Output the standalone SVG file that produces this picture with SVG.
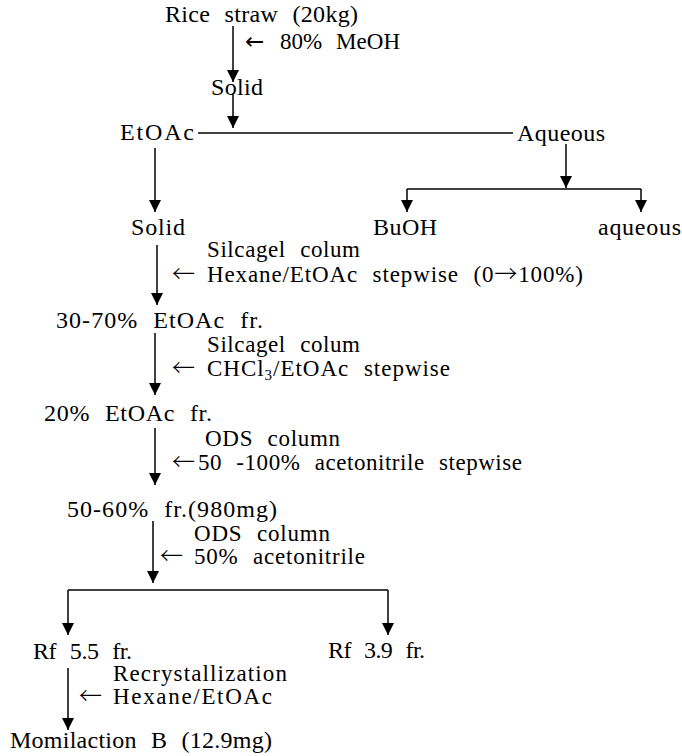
<svg xmlns="http://www.w3.org/2000/svg" width="682" height="756" viewBox="0 0 682 756">
<defs>
<style>
text{font-family:"Liberation Serif","DejaVu Serif",serif;font-size:24px;fill:#000;word-spacing:8px}
text.a{font-size:23px}
.k{font-family:"Noto Sans CJK KR","DejaVu Sans",sans-serif;font-weight:300}
.d{font-family:"DejaVu Sans",sans-serif}
.c line{stroke:#000;stroke-width:1.5;fill:none}
.ar{marker-end:url(#ah)}
</style>
<marker id="ah" markerUnits="userSpaceOnUse" markerWidth="13" markerHeight="13" refX="12" refY="6" orient="auto">
<path d="M0,0 L12,6 L0,12 Z" fill="#000"/>
</marker>
</defs>
<rect width="682" height="756" fill="#fff"/>
<g class="c" id="connectors">
<line class="ar" x1="233" y1="26" x2="233" y2="82"/>
<line class="ar" x1="233" y1="93" x2="233" y2="128"/>
<line x1="198" y1="133" x2="513" y2="133"/>
<line class="ar" x1="566" y1="144" x2="566" y2="188"/>
<line x1="407" y1="189" x2="641" y2="189"/>
<line class="ar" x1="407" y1="189" x2="407" y2="212"/>
<line class="ar" x1="641" y1="189" x2="641" y2="212"/>
<line class="ar" x1="155" y1="148" x2="155" y2="212"/>
<line class="ar" x1="157" y1="245" x2="157" y2="305"/>
<line class="ar" x1="155" y1="333" x2="155" y2="395"/>
<line class="ar" x1="155" y1="428" x2="155" y2="485"/>
<line class="ar" x1="153" y1="521" x2="153" y2="583"/>
<line x1="68" y1="590" x2="388" y2="590"/>
<line class="ar" x1="68" y1="590" x2="68" y2="635"/>
<line class="ar" x1="388" y1="590" x2="388" y2="635"/>
<line class="ar" x1="68" y1="668" x2="68" y2="730"/>
</g>
<g id="n-rice"><text x="165" y="22" textLength="193">Rice straw (20kg)</text></g>
<g id="l-meoh"><text class="a d" x="245" y="49" textLength="22">←</text><text class="a" x="280" y="49" textLength="120">80% MeOH</text></g>
<g id="n-solid1"><text x="211" y="95" textLength="52">Solid</text></g>
<g id="n-etoac"><text x="120" y="140" font-size="25" textLength="74">EtOAc</text></g>
<g id="n-aqueous"><text x="517" y="141" textLength="88">Aqueous</text></g>
<g id="n-solid2"><text x="131" y="235" textLength="54">Solid</text></g>
<g id="n-buoh"><text x="373" y="235" textLength="64">BuOH</text></g>
<g id="n-aqueous2"><text x="598" y="235" textLength="83">aqueous</text></g>
<g id="l-step1">
<text class="a" x="207" y="257" textLength="153">Silcagel colum</text>
<text class="a k" x="172" y="282">←</text>
<text class="a" x="207" y="282" textLength="376">Hexane/EtOAc stepwise (0<tspan class="k">→</tspan>100%)</text>
</g>
<g id="n-3070"><text x="56" y="328" textLength="207">30-70%  EtOAc fr.</text></g>
<g id="l-step2">
<text class="a" x="207" y="352" textLength="153">Silcagel colum</text>
<text class="a k" x="172" y="376">←</text>
<text class="a" x="207" y="376" textLength="243">CHCl<tspan font-size="15" dy="4">3</tspan><tspan dy="-4">/EtOAc stepwise</tspan></text>
</g>
<g id="n-20"><text x="44" y="421" textLength="168">20%  EtOAc fr.</text></g>
<g id="l-step3">
<text class="a" x="205" y="446" textLength="135">ODS column</text>
<text class="a k" x="172" y="470">←</text>
<text class="a" x="198" y="470" textLength="324">50 -100% acetonitrile stepwise</text>
</g>
<g id="n-5060"><text x="67" y="517" textLength="210">50-60% fr.(980mg)</text></g>
<g id="l-step4">
<text class="a" x="194" y="541" textLength="136">ODS column</text>
<text class="a k" x="160" y="564">←</text>
<text class="a" x="194" y="564" textLength="171">50% acetonitrile</text>
</g>
<g id="n-rf55"><text x="33" y="659" textLength="99">Rf 5.5 fr.</text></g>
<g id="n-rf39"><text x="328" y="658" textLength="97">Rf 3.9 fr.</text></g>
<g id="l-step5">
<text class="a" x="113" y="681" textLength="174">Recrystallization</text>
<text class="a k" x="79" y="704">←</text>
<text class="a" x="113" y="704" textLength="159">Hexane/EtOAc</text>
</g>
<g id="n-momi"><text x="10" y="748" textLength="262">Momilaction B (12.9mg)</text></g>
</svg>
